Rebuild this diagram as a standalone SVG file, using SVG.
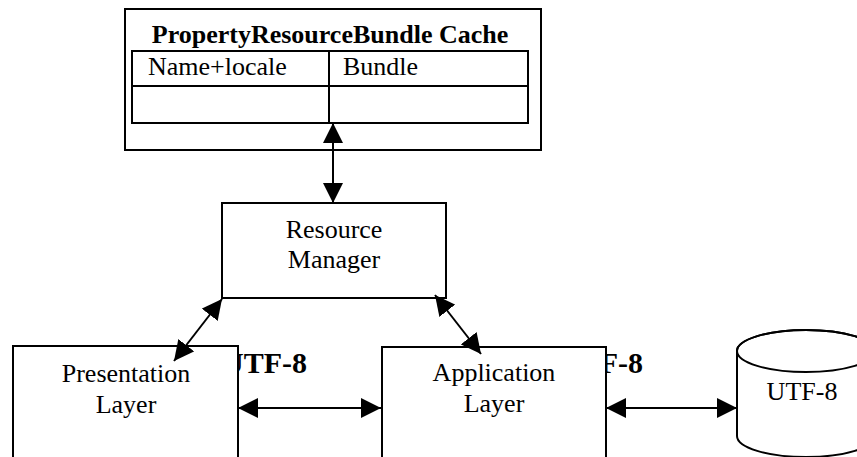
<svg xmlns="http://www.w3.org/2000/svg" width="857" height="457" viewBox="0 0 857 457">
  <defs>
    <style>
      .box { fill: #ffffff; stroke: #000000; stroke-width: 2; }
      .line { fill: none; stroke: #000000; stroke-width: 2; }
      .txt { font-family: "Liberation Serif", "Times New Roman", serif; font-size: 26px; fill: #000000; }
      .mid { text-anchor: middle; }
      .bold { font-weight: bold; }
      .big { font-size: 30px; }
      .conn { fill: none; stroke: #000000; stroke-width: 2; marker-start: url(#head); marker-end: url(#head); }
    </style>
    <marker id="head" viewBox="0 0 20 20" refX="20" refY="10" markerWidth="20" markerHeight="20" markerUnits="userSpaceOnUse" orient="auto-start-reverse">
      <path d="M0,0 L20,10 L0,20 Z" fill="#000000"/>
    </marker>
  </defs>

  <rect width="857" height="457" fill="#ffffff"/>

  <!-- encoding labels, partly hidden behind the layer boxes -->
  <g id="labels">
    <text class="txt bold big" x="222" y="373">UTF-8</text>
    <text class="txt bold big" x="558" y="373">UTF-8</text>
  </g>

  <!-- bundle cache with its lookup table -->
  <g id="cache">
    <rect class="box" x="125" y="9" width="416" height="141"/>
    <text class="txt bold mid" x="330" y="43">PropertyResourceBundle Cache</text>
    <rect class="line" x="132" y="51" width="396" height="72"/>
    <line class="line" x1="132" y1="86" x2="528" y2="86"/>
    <line class="line" x1="329" y1="51" x2="329" y2="123"/>
    <text class="txt" x="148" y="75">Name+locale</text>
    <text class="txt" x="343" y="75">Bundle</text>
  </g>

  <g id="resource-manager">
    <rect class="box" x="222" y="203" width="224" height="95"/>
    <text class="txt mid" x="334" y="238">Resource</text>
    <text class="txt mid" x="334" y="268">Manager</text>
  </g>

  <g id="presentation-layer">
    <rect class="box" x="13" y="346" width="225" height="130"/>
    <text class="txt mid" x="126" y="382">Presentation</text>
    <text class="txt mid" x="126" y="413">Layer</text>
  </g>

  <g id="application-layer">
    <rect class="box" x="382" y="347" width="224" height="130"/>
    <text class="txt mid" x="494" y="381">Application</text>
    <text class="txt mid" x="494" y="412">Layer</text>
  </g>

  <g id="datastore">
    <path class="box" d="M737,351 L737,436 A69,21 0 0 0 875,436 L875,351 A69,21 0 0 0 737,351 Z"/>
    <ellipse class="line" cx="806" cy="351" rx="69" ry="21"/>
    <text class="txt mid" x="802" y="400">UTF-8</text>
  </g>

  <g id="connectors">
    <line class="conn" x1="333" y1="123" x2="333" y2="203"/>
    <line class="conn" x1="222" y1="299" x2="174" y2="361"/>
    <line class="conn" x1="435" y1="295" x2="481" y2="354"/>
    <line class="conn" x1="238" y1="408" x2="381" y2="408"/>
    <line class="conn" x1="606" y1="408" x2="737" y2="408"/>
  </g>
</svg>
